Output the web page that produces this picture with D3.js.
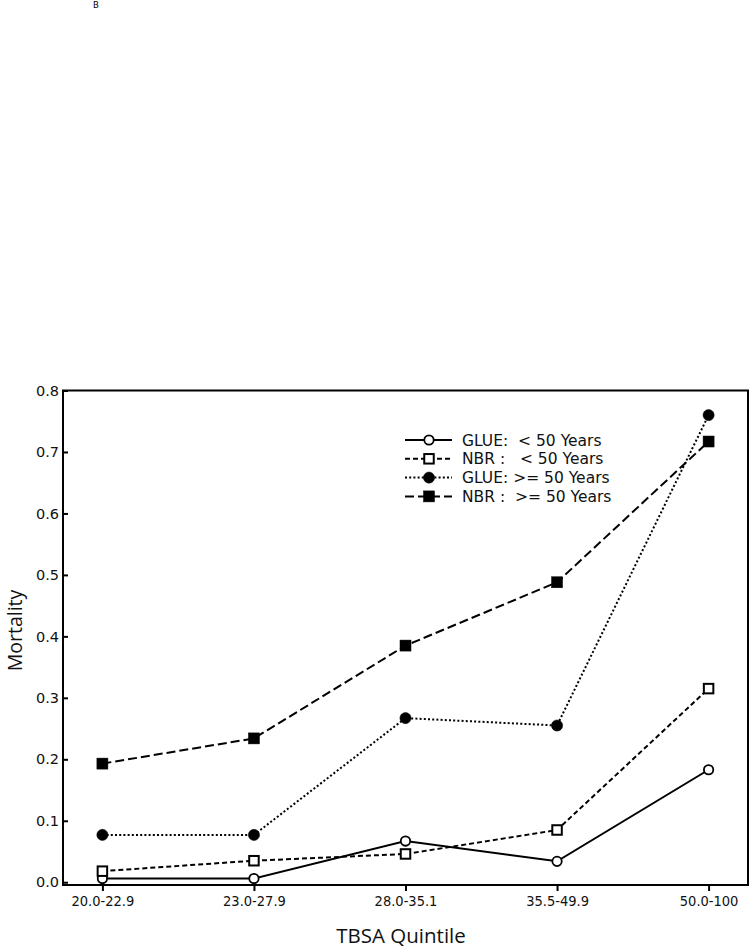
<!DOCTYPE html>
<html>
<head>
<meta charset="utf-8">
<script src="https://cdn.jsdelivr.net/npm/d3@7"></script>
<style>
  html, body { margin: 0; padding: 0; background: #fff; }
  svg { display: block; }
  text { white-space: pre; }
</style>
</head>
<body>
<svg id="chart" width="750" height="949"></svg>
<script>
// ---- data ----
const categories = ["20.0-22.9", "23.0-27.9", "28.0-35.1", "35.5-49.9", "50.0-100"];
const glueUnder50 = [0.006, 0.006, 0.067, 0.034, 0.183];
const nbrUnder50  = [0.018, 0.035, 0.046, 0.085, 0.315];
const glueOver50  = [0.077, 0.077, 0.267, 0.255, 0.760];
const nbrOver50   = [0.193, 0.234, 0.385, 0.488, 0.717];
const yTicks = [0.0, 0.1, 0.2, 0.3, 0.4, 0.5, 0.6, 0.7, 0.8];
const legendLabels = ["GLUE:  < 50 Years", "NBR :   < 50 Years", "GLUE: >= 50 Years", "NBR :  >= 50 Years"];

(function () {
const series = [
  { name: legendLabels[0], values: glueUnder50, dash: null,    shape: "circle", fill: "#fff" },
  { name: legendLabels[1], values: nbrUnder50,  dash: "5,3",   shape: "square", fill: "#fff" },
  { name: legendLabels[2], values: glueOver50,  dash: "2,2.2", shape: "circle", fill: "#000" },
  { name: legendLabels[3], values: nbrOver50,   dash: "9,4",   shape: "square", fill: "#000" }
];

const svg = d3.select("#chart");
const pL = 63, pR = 748, pT = 390.5, pB = 885;

const x = d3.scalePoint().domain(categories).range([pL, pR]).padding(0.26);
const y = d3.scaleLinear().domain([-0.0045, 0.8]).range([pB, pT]);

// panel label
svg.append("text").attr("x", 96).attr("y", 8).attr("text-anchor", "middle")
  .attr("font-family", "DejaVu Sans, sans-serif").attr("font-size", 8.5).text("B");

// axes
const yAxis = d3.axisLeft(y).tickValues(yTicks).tickFormat(d3.format(".1f"))
  .tickSizeInner(-5).tickSizeOuter(0).tickPadding(4);
const gy = svg.append("g").attr("transform", `translate(${pL},0)`).call(yAxis);
gy.select(".domain").remove();
gy.selectAll(".tick line").attr("stroke", "#000").attr("stroke-width", 2);
gy.selectAll(".tick text").attr("font-family", "DejaVu Sans, sans-serif").attr("font-size", 14.5).attr("fill", "#111");

const xAxis = d3.axisBottom(x).tickSizeInner(6).tickSizeOuter(0).tickPadding(5);
const gx = svg.append("g").attr("transform", `translate(0,${pB})`).call(xAxis);
gx.select(".domain").remove();
gx.selectAll(".tick line").attr("stroke", "#000").attr("stroke-width", 2);
gx.selectAll(".tick text").attr("font-family", "DejaVu Sans Condensed, DejaVu Sans, sans-serif").attr("font-size", 14.5).attr("fill", "#111");

// frame
svg.append("rect").attr("x", pL).attr("y", pT).attr("width", pR - pL).attr("height", pB - pT)
  .attr("fill", "none").attr("stroke", "#000").attr("stroke-width", 2);

// axis titles
svg.append("text").attr("x", 401).attr("y", 943).attr("text-anchor", "middle")
  .attr("font-family", "Open Sans, sans-serif").attr("font-size", 20.5).attr("fill", "#111").text("TBSA Quintile");
svg.append("text").attr("transform", "translate(21.5,630.5) rotate(-90)").attr("text-anchor", "middle")
  .attr("font-family", "Open Sans, sans-serif").attr("font-size", 19.5).attr("fill", "#111").text("Mortality");

// lines
const line = d3.line().x((d, i) => x(categories[i])).y(d => y(d));
function drawMarker(g, shape, fill, cx, cy) {
  if (shape === "circle") {
    g.append("circle").attr("cx", cx).attr("cy", cy).attr("r", fill === "#000" ? 5.6 : 4.7)
      .attr("fill", fill).attr("stroke", "#000").attr("stroke-width", fill === "#000" ? 0.5 : 1.8);
  } else {
    const s = fill === "#000" ? 11 : 9.5;
    g.append("rect").attr("x", cx - s / 2).attr("y", cy - s / 2).attr("width", s).attr("height", s)
      .attr("fill", fill).attr("stroke", "#000").attr("stroke-width", fill === "#000" ? 0.5 : 2);
  }
}

const gl = svg.append("g");
series.forEach(s => {
  gl.append("path").datum(s.values).attr("d", line).attr("fill", "none")
    .attr("stroke", "#000").attr("stroke-width", 2)
    .attr("stroke-dasharray", s.dash);
});
const gm = svg.append("g");
series.forEach(s => {
  s.values.forEach((v, i) => drawMarker(gm, s.shape, s.fill, x(categories[i]), y(v)));
});

// legend
const lg = svg.append("g");
series.forEach((s, i) => {
  const ly = 440 + i * 18.8;
  lg.append("line").attr("x1", 405).attr("x2", 452).attr("y1", ly).attr("y2", ly)
    .attr("stroke", "#000").attr("stroke-width", 2).attr("stroke-dasharray", s.dash);
  drawMarker(lg, s.shape, s.fill, 429, ly);
  lg.append("text").attr("x", 462).attr("y", ly).attr("dy", "0.36em")
    .attr("font-family", "DejaVu Sans, sans-serif").attr("font-size", 15.5).attr("fill", "#111")
    .text(s.name);
});
})();
</script>
</body>
</html>
